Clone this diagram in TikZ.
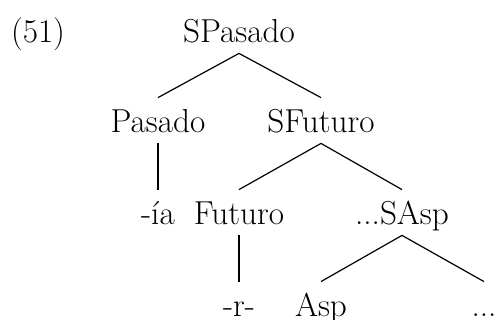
\documentclass[tikz,border=0pt]{standalone}
\usepackage{fontspec}
\begin{document}
\begin{tikzpicture}[x=0.5pt,y=-0.5pt,
  tn/.style={inner sep=0pt, text height=17.5pt, text depth=5pt, anchor=base,
    font=\fontsize{16.6}{19}\selectfont},
  edge/.style={line width=0.6pt}]
\useasboundingbox (0,0) rectangle (495,320);
\node[tn] (ex) at (38,43) {(51)};
\node[tn] (sp) at (239,43) {SPasado};
\node[tn] (p) at (158,133) {Pasado};
\node[tn] (sf) at (321,133) {SFuturo};
\node[tn] (ia) at (158,225) {-ía};
\node[tn] (f) at (239,225) {Futuro};
\node[tn] (sa) at (402,225) {...SAsp};
\node[tn] (r) at (239,317) {-r-};
\node[tn] (a) at (321,317) {Asp};
\node[tn] (d) at (484,317) {...};
\draw[edge] (sp.south) -- (p.north);
\draw[edge] (sp.south) -- (sf.north);
\draw[edge] (p.south) -- (ia.north);
\draw[edge] (sf.south) -- (f.north);
\draw[edge] (sf.south) -- (sa.north);
\draw[edge] (f.south) -- (r.north);
\draw[edge] (sa.south) -- (a.north);
\draw[edge] (sa.south) -- (d.north);
\end{tikzpicture}
\end{document}
